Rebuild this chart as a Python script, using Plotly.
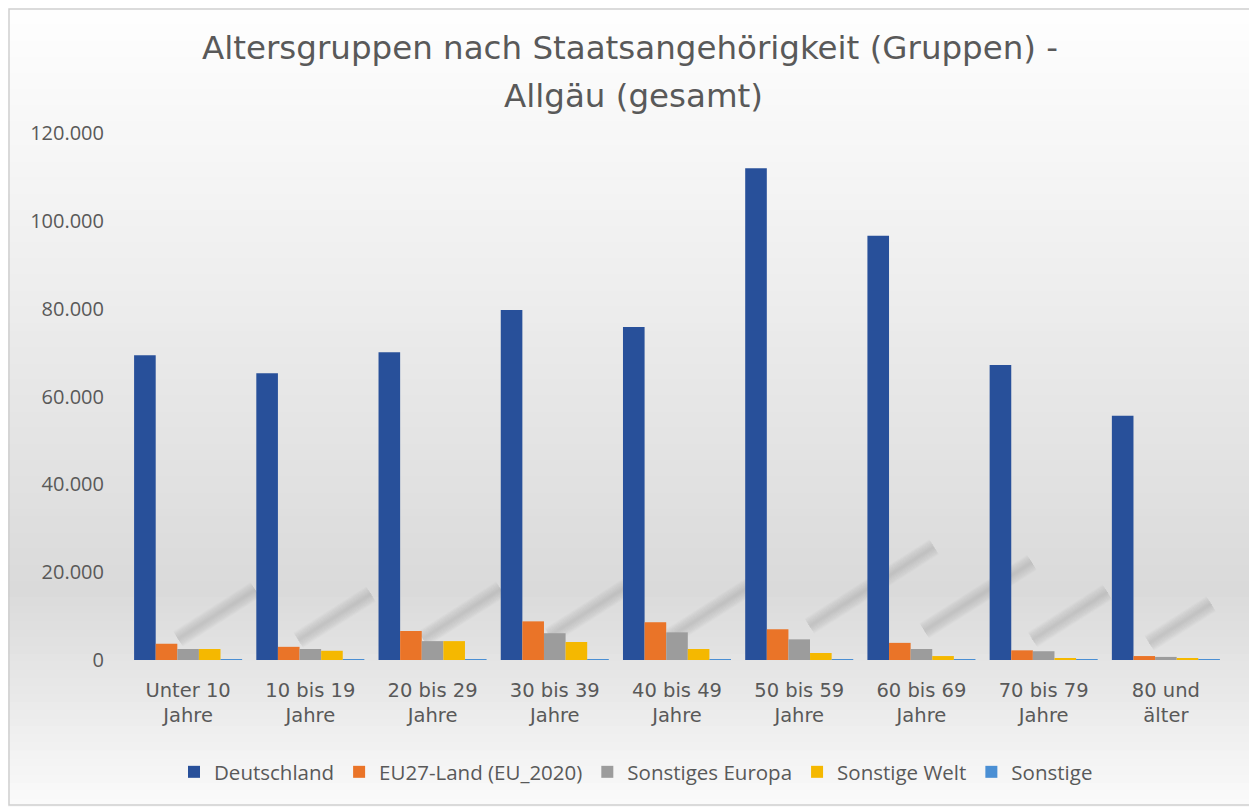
import plotly.graph_objects as go

categories = ["Unter 10<br>Jahre", "10 bis 19<br>Jahre", "20 bis 29<br>Jahre", "30 bis 39<br>Jahre",
              "40 bis 49<br>Jahre", "50 bis 59<br>Jahre", "60 bis 69<br>Jahre", "70 bis 79<br>Jahre",
              "80 und<br>älter"]
deutschland = [69400, 65300, 70100, 79700, 75800, 112000, 96600, 67200, 55600]
eu27 = [3700, 3000, 6600, 8800, 8600, 7000, 3900, 2200, 900]
sonst_europa = [2500, 2500, 4300, 6100, 6300, 4700, 2500, 2000, 700]
sonst_welt = [2500, 2100, 4300, 4100, 2500, 1600, 900, 300, 300]
sonstige = [150, 150, 150, 150, 150, 150, 150, 150, 150]
title_lines = ["Altersgruppen nach Staatsangehörigkeit (Gruppen) -", "Allgäu (gesamt)"]

series = [
    ("Deutschland", deutschland, "#28509a"),
    ("EU27-Land (EU_2020)", eu27, "#ea7428"),
    ("Sonstiges Europa", sonst_europa, "#9c9c9c"),
    ("Sonstige Welt", sonst_welt, "#f5b800"),
    ("Sonstige", sonstige, "#4a8fd4"),
]

fig = go.Figure()
for name, vals, col in series:
    fig.add_trace(go.Bar(x=list(range(len(categories))), y=vals, name=name,
                         marker=dict(color=col, line=dict(width=0))))

# ---- styling: page geometry (plot area 127..1227 x 133..660 page px)
W, H = 1249, 799
ML, MR, MT, MB = 119, 30, 125, 147
PW = W - ML - MR
PH = H - MT - MB
def px_x(p):  # page px -> paper x
    return (p - 8 - ML) / PW
def px_y(p):  # page px -> paper y
    return (8 + H - MB - p) / PH

# background gradient
def lerp(c1, c2, t):
    return tuple(round(a + (b - a) * t) for a, b in zip(c1, c2))

stops = [(0, (255, 255, 255)), (250, (240, 240, 240)), (590, (218, 218, 218)),
         (690, (232, 232, 232)), (807, (251, 251, 251))]
shapes = []
n = 100
for i in range(n):
    p0 = i * 807 / n
    p1 = (i + 1) * 807 / n + 0.8
    pm = (p0 + p1) / 2
    c = stops[-1][1]
    for j in range(len(stops) - 1):
        if stops[j][0] <= pm <= stops[j + 1][0]:
            t = (pm - stops[j][0]) / (stops[j + 1][0] - stops[j][0])
            c = lerp(stops[j][1], stops[j + 1][1], t)
            break
    shapes.append(dict(type="rect", xref="paper", yref="paper", x0=px_x(0), x1=px_x(1257),
                       y0=px_y(p1), y1=px_y(p0), layer="below", line=dict(width=0),
                       fillcolor="rgb(%d,%d,%d)" % c))
# border
shapes.append(dict(type="rect", xref="paper", yref="paper", x0=px_x(9), x1=px_x(1254),
                   y0=px_y(805), y1=px_y(9), layer="below", line=dict(width=1.5, color="#d0d0d0"),
                   fillcolor="rgba(0,0,0,0)"))

# diagonal soft shadows cast by the Deutschland bars
for i, v in enumerate(deutschland):
    x0 = i - 0.353
    dx = v * 1.3e-5
    dy = v * 0.23
    for k in range(12):
        w = 18 - 1.45 * k
        shapes.append(dict(type="line", xref="x", yref="y",
                           x0=x0 + 0.3 * dx, y0=0.3 * dy, x1=x0 + dx, y1=dy,
                           layer="below", line=dict(width=w, color="rgba(110,110,110,0.022)")))

annotations = [
    dict(text=title_lines[0], xref="paper", yref="paper", x=px_x(630), y=px_y(48),
         xanchor="center", yanchor="middle", showarrow=False,
         font=dict(family="DejaVu Sans", size=32.5, color="#595959")),
    dict(text=title_lines[1], xref="paper", yref="paper", x=px_x(633), y=px_y(96),
         xanchor="center", yanchor="middle", showarrow=False,
         font=dict(family="DejaVu Sans", size=32.5, color="#595959")),
]

fig.update_layout(
    width=W, height=H,
    margin=dict(l=ML, r=MR, t=MT, b=MB),
    paper_bgcolor="#ffffff",
    plot_bgcolor="rgba(0,0,0,0)",
    barmode="group",
    bargap=0.116,
    bargroupgap=0,
    font=dict(family="Open Sans", color="#595959"),
    xaxis=dict(showgrid=False, showline=False, ticks="", zeroline=False,
               tickmode="array", tickvals=list(range(len(categories))), ticktext=categories,
               range=[-0.5, len(categories) - 0.5], ticklabelstandoff=16,
               tickfont=dict(size=19.5, color="#595959", family="DejaVu Sans")),
    yaxis=dict(range=[0, 120000], dtick=20000, showgrid=False, showline=False, zeroline=False,
               tickformat=",.0f", ticks="", ticklabelstandoff=22,
               tickfont=dict(size=20, color="#595959", family="Open Sans")),
    separators=",.",
    legend=dict(orientation="h", x=px_x(636), xanchor="center", y=px_y(772), yanchor="middle",
                font=dict(size=20.5, color="#595959", family="Open Sans"), itemwidth=30,
                bgcolor="rgba(0,0,0,0)", traceorder="normal"),
    shapes=shapes,
    annotations=annotations,
    showlegend=True,
)
fig.write_html("out.html")
